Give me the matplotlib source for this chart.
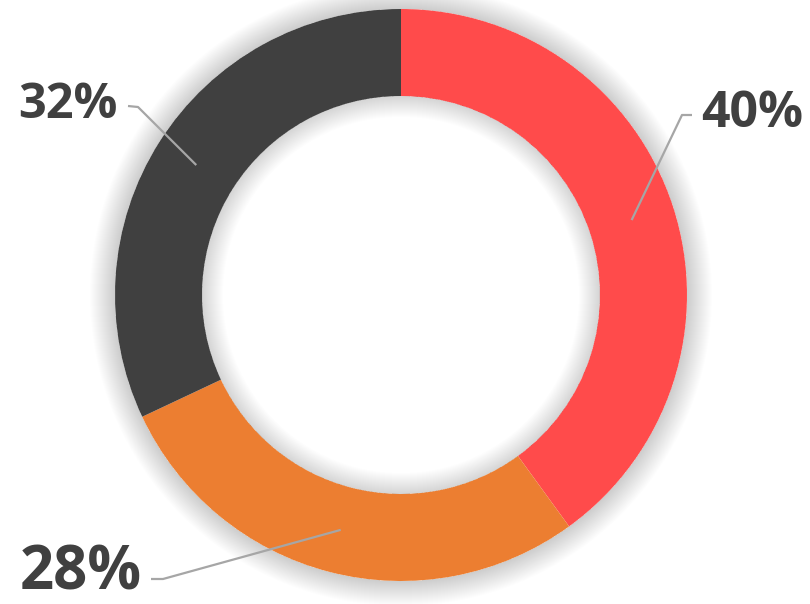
import matplotlib
matplotlib.use("Agg")
import matplotlib.pyplot as plt
from matplotlib.patches import Wedge
import numpy as np

# ── data ─────────────────────────────────────────────────────────────────────
shares = [40, 28, 32]
labels = ["40%", "28%", "32%"]
colors = ["#FF4B4B", "#EC7E31", "#404040"]

W, H = 810, 604
CX, CY = 401, H - 295
R_OUT, R_IN = 286, 199

fig = plt.figure(figsize=(W / 100, H / 100), dpi=100)
ax = fig.add_axes([0, 0, 1, 1])
ax.axis("off")

# soft shadow round the ring and inside the hole
for s in range(1, 26):
    ax.add_patch(Wedge((CX, CY), R_OUT + s, 0, 360, width=s, color="black",
                       alpha=0.006, lw=0, zorder=1))
for s in range(1, 22):
    ax.add_patch(Wedge((CX, CY), R_IN, 0, 360, width=s, color="black",
                       alpha=0.006, lw=0, zorder=3))

wedges, _ = ax.pie(shares, colors=colors, startangle=90, counterclock=False,
                   radius=R_OUT, center=(CX, CY),
                   wedgeprops=dict(width=R_OUT - R_IN, linewidth=0))
for w in wedges:
    w.set_zorder(2)
ax.set_xlim(0, W)
ax.set_ylim(0, H)
ax.set_aspect("equal")

# leader lines: (elbow, end, text pos, ha, size)
leaders = [
    ((682, 115), (692, 115), (701, 114), "left", 36),
    ((163, 579), (151, 579), (142, 574), "right", 43),
    ((138, 107), (128, 106), (118, 105), "right", 35),
]
r_mid = (R_OUT + R_IN) / 2
for w, lab, (elb, end, tpos, ha, fs) in zip(wedges, labels, leaders):
    ang = np.deg2rad((w.theta1 + w.theta2) / 2)
    x0 = CX + r_mid * np.cos(ang)
    y0 = CY + r_mid * np.sin(ang)
    ax.plot([x0, elb[0], end[0]], [y0, H - elb[1], H - end[1]],
            color="#A6A6A6", lw=1.6, zorder=5, solid_capstyle="butt")
    ax.text(tpos[0], H - tpos[1], lab, ha=ha, va="center",
            fontsize=fs, fontweight="bold", family="Open Sans",
            color="#404040", zorder=6)

fig.savefig("out.png", dpi=100, facecolor="white")
